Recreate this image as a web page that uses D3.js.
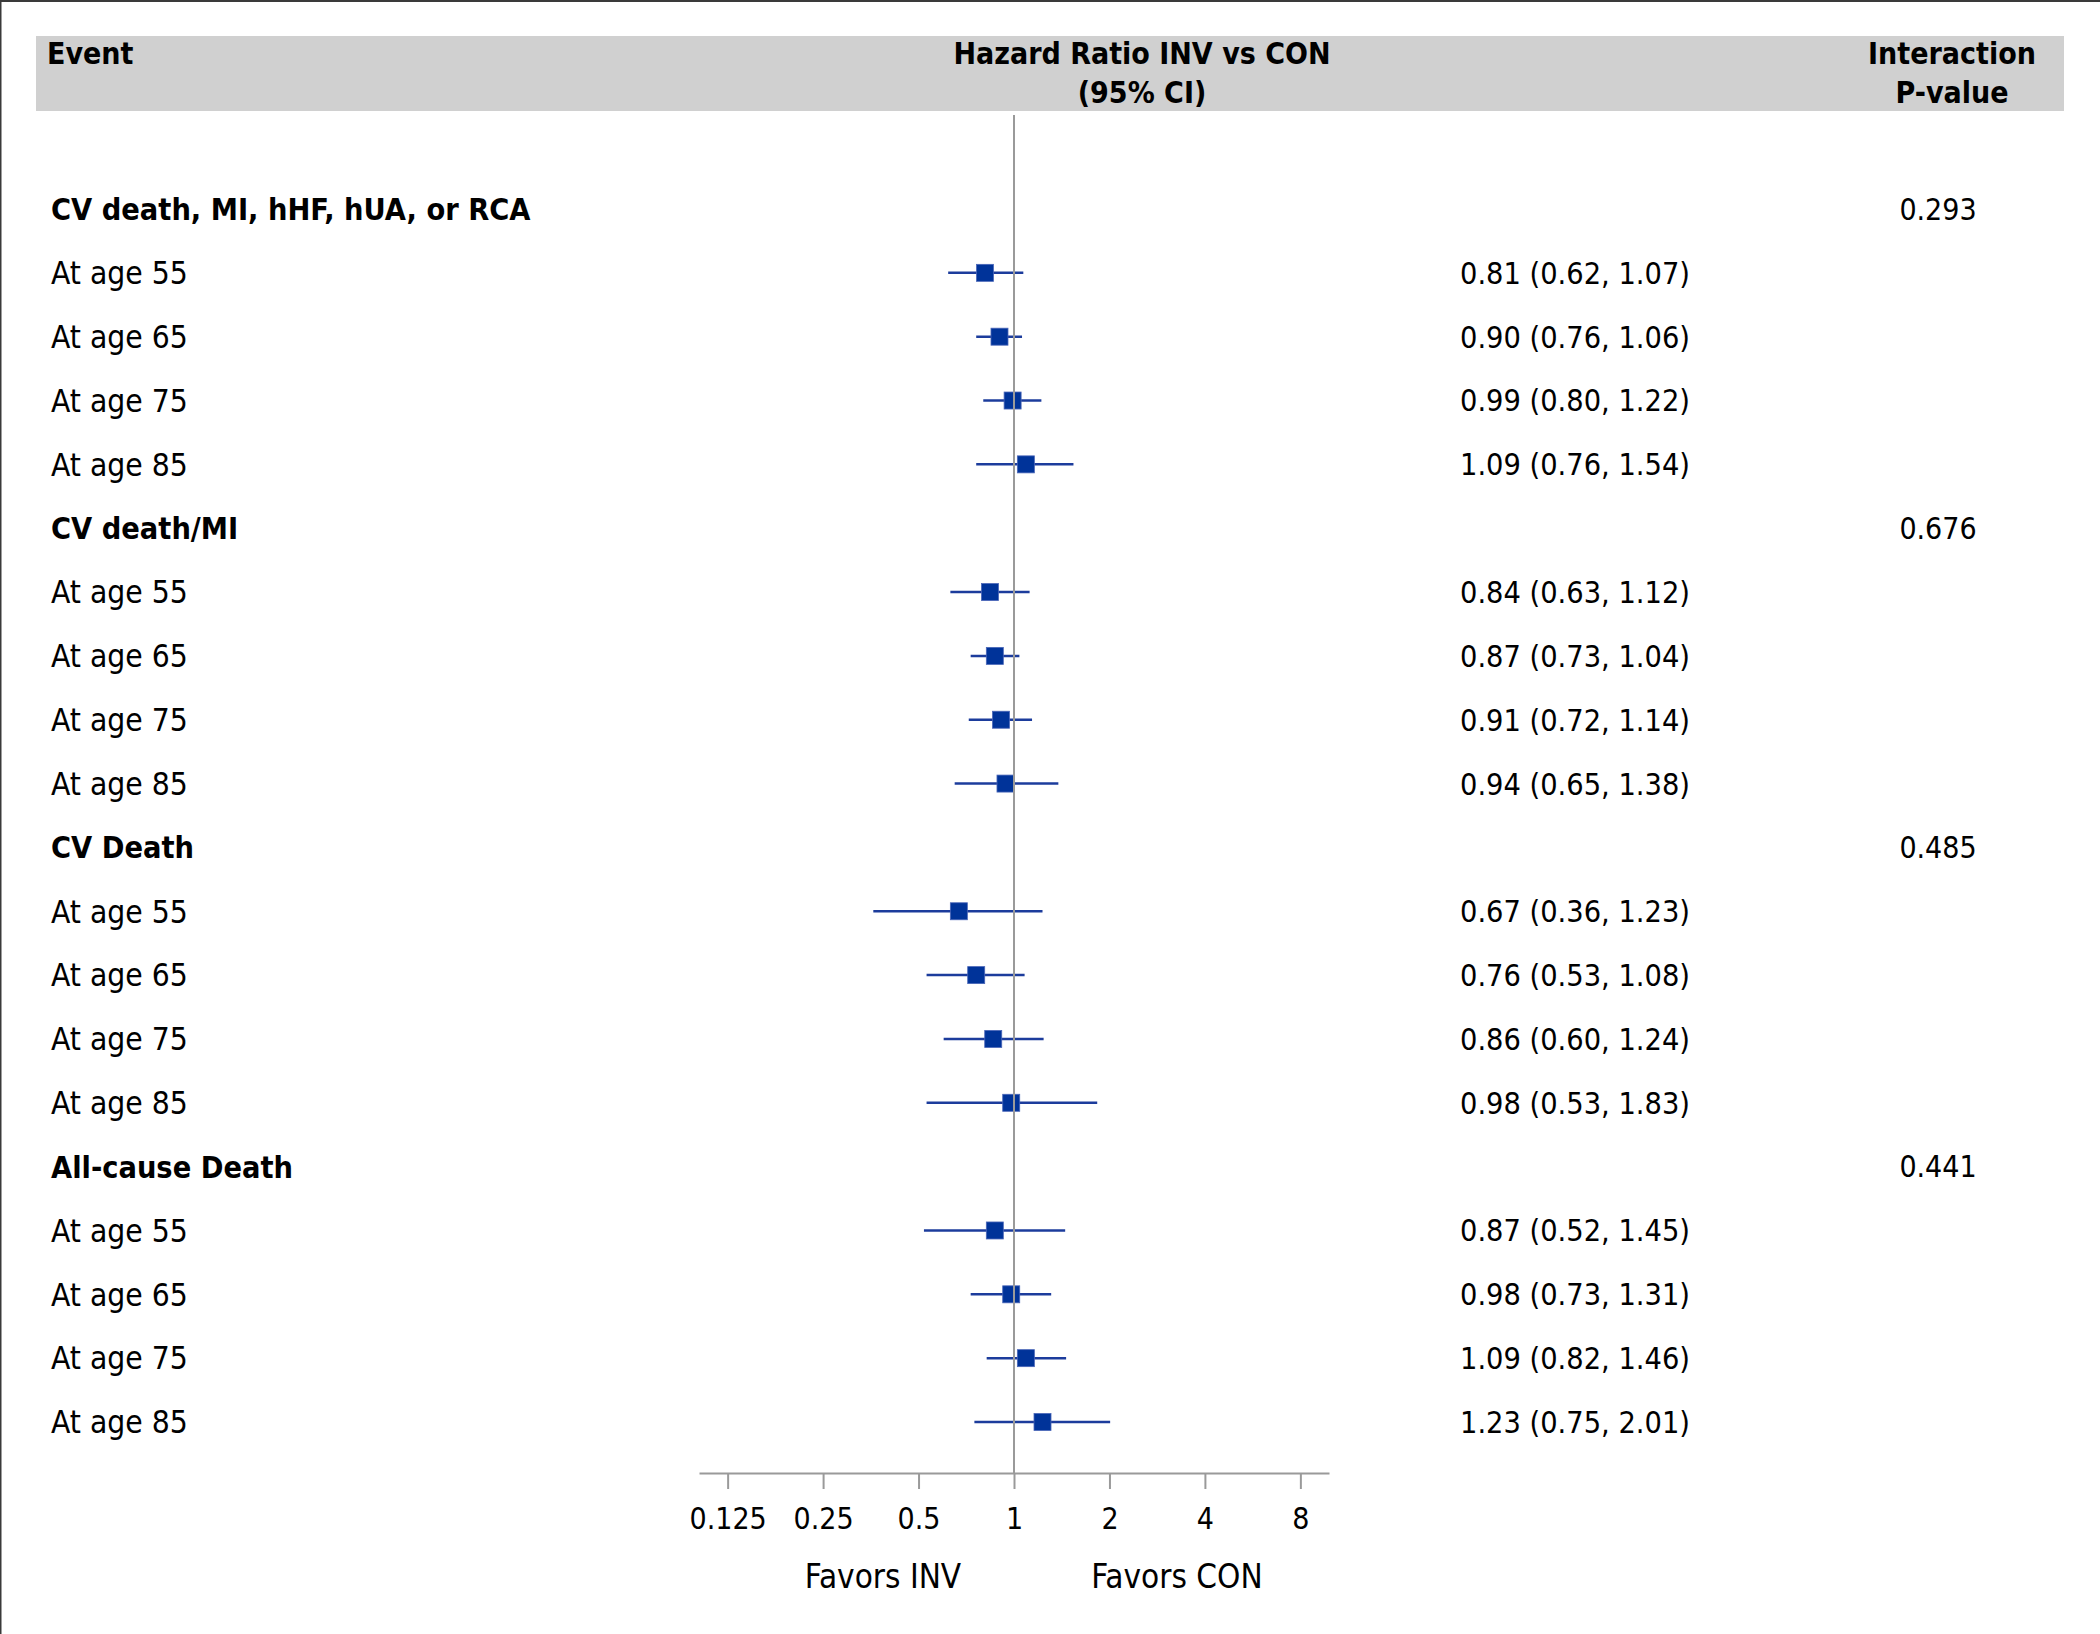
<!DOCTYPE html>
<html>
<head>
<meta charset="utf-8">
<script src="https://cdn.jsdelivr.net/npm/d3@7"></script>
<style>
  html, body { margin: 0; padding: 0; background: #fff; }
  svg { display: block; }
  text { font-family: "DejaVu Sans Condensed", "DejaVu Sans", sans-serif; font-stretch: condensed; fill: #000; }
</style>
</head>
<body>
<script>
// ---- data ----
const groups = ["CV death, MI, hHF, hUA, or RCA", "CV death/MI", "CV Death", "All-cause Death"];
const pValues = ["0.293", "0.676", "0.485", "0.441"];
const ages = ["At age 55", "At age 65", "At age 75", "At age 85"];
const hr = [0.81, 0.90, 0.99, 1.09, 0.84, 0.87, 0.91, 0.94, 0.67, 0.76, 0.86, 0.98, 0.87, 0.98, 1.09, 1.23];
const ciLow = [0.62, 0.76, 0.80, 0.76, 0.63, 0.73, 0.72, 0.65, 0.36, 0.53, 0.60, 0.53, 0.52, 0.73, 0.82, 0.75];
const ciHigh = [1.07, 1.06, 1.22, 1.54, 1.12, 1.04, 1.14, 1.38, 1.23, 1.08, 1.24, 1.83, 1.45, 1.31, 1.46, 2.01];
const tickValues = [0.125, 0.25, 0.5, 1, 2, 4, 8];
const tickLabels = ["0.125", "0.25", "0.5", "1", "2", "4", "8"];

// ---- build rows ----
const rows = [];
groups.forEach((g, gi) => {
  rows.push({ type: "group", label: g, p: pValues[gi] });
  ages.forEach((a, ai) => {
    const k = gi * ages.length + ai;
    rows.push({ type: "item", label: a, hr: hr[k], lo: ciLow[k], hi: ciHigh[k] });
  });
});

const W = 2100, H = 1634;
const svg = d3.select("body").append("svg").attr("width", W).attr("height", H);

// border (top & left)
svg.append("line").attr("x1", 0).attr("x2", W).attr("y1", 1).attr("y2", 1).attr("stroke", "#3a3a3a").attr("stroke-width", 2);
svg.append("line").attr("x1", 0.75).attr("x2", 0.75).attr("y1", 0).attr("y2", H).attr("stroke", "#3a3a3a").attr("stroke-width", 1.5);

// header band
svg.append("rect").attr("x", 36).attr("y", 36).attr("width", 2028).attr("height", 75).attr("fill", "#d0d0d0");
const hdr = svg.append("g").attr("font-weight", "bold").attr("font-size", 30);
hdr.append("text").attr("x", 47).attr("y", 64).text("Event");
hdr.append("text").attr("x", 1142).attr("y", 64).attr("text-anchor", "middle").text("Hazard Ratio INV vs CON");
hdr.append("text").attr("x", 1142).attr("y", 103).attr("text-anchor", "middle").text("(95% CI)");
hdr.append("text").attr("x", 1952).attr("y", 64).attr("text-anchor", "middle").text("Interaction");
hdr.append("text").attr("x", 1952).attr("y", 103).attr("text-anchor", "middle").text("P-value");

// scales
const y = d3.scalePoint().domain(d3.range(rows.length)).range([209, 1422]);
const x = d3.scaleLog().base(2).domain([Math.pow(2, -3.3), Math.pow(2, 3.3)]).range([699, 1329]);
const axisY = 1473;

// labels
const lab = svg.append("g");
rows.forEach((r, i) => {
  lab.append("text").attr("x", 51).attr("y", y(i)).attr("dy", "0.36em")
    .attr("font-size", r.type === "group" ? 30.4 : 31.5)
    .attr("font-weight", r.type === "group" ? "bold" : "normal").text(r.label);
  if (r.type === "group") {
    lab.append("text").attr("x", 1938).attr("y", y(i)).attr("dy", "0.36em").attr("font-size", 30)
      .attr("text-anchor", "middle").text(r.p);
  } else {
    lab.append("text").attr("x", 1460).attr("y", y(i)).attr("dy", "0.36em").attr("font-size", 30.4)
      .text(`${r.hr.toFixed(2)} (${r.lo.toFixed(2)}, ${r.hi.toFixed(2)})`);
  }
});

// CI lines and markers
const items = rows.map((r, i) => Object.assign({ i }, r)).filter(r => r.type === "item");
const marks = svg.append("g");
marks.selectAll("line.ci").data(items).join("line").attr("class", "ci")
  .attr("x1", d => x(d.lo)).attr("x2", d => x(d.hi))
  .attr("y1", d => y(d.i)).attr("y2", d => y(d.i))
  .attr("stroke", "#1c3c9c").attr("stroke-width", 2.5);
const sz = 17;
marks.selectAll("rect.pt").data(items).join("rect").attr("class", "pt")
  .attr("x", d => x(d.hr) - sz / 2).attr("y", d => y(d.i) - sz / 2)
  .attr("width", sz).attr("height", sz)
  .attr("fill", "#003399").attr("stroke", "#4a66b8").attr("stroke-width", 0.8);

// reference line at HR = 1 (drawn on top)
svg.append("line").attr("x1", x(1)).attr("x2", x(1)).attr("y1", 115).attr("y2", axisY)
  .attr("stroke", "#9a9a9a").attr("stroke-width", 2);

// axis
const axis = d3.axisBottom(x).tickValues(tickValues)
  .tickFormat((d, i) => tickLabels[i]).tickSize(16).tickSizeOuter(0).tickPadding(19);
const ag = svg.append("g").attr("transform", `translate(0,${axisY})`).call(axis);
ag.attr("font-family", null).attr("font-size", 30);
ag.select(".domain").attr("stroke", "#9a9a9a").attr("stroke-width", 2);
ag.selectAll(".tick line").attr("stroke", "#9a9a9a").attr("stroke-width", 2);
ag.selectAll(".tick text").attr("fill", "#000");

// favors labels
svg.append("text").attr("x", 883).attr("y", 1588).attr("text-anchor", "middle").attr("font-size", 33).text("Favors INV");
svg.append("text").attr("x", 1177).attr("y", 1588).attr("text-anchor", "middle").attr("font-size", 33).text("Favors CON");
</script>
</body>
</html>
